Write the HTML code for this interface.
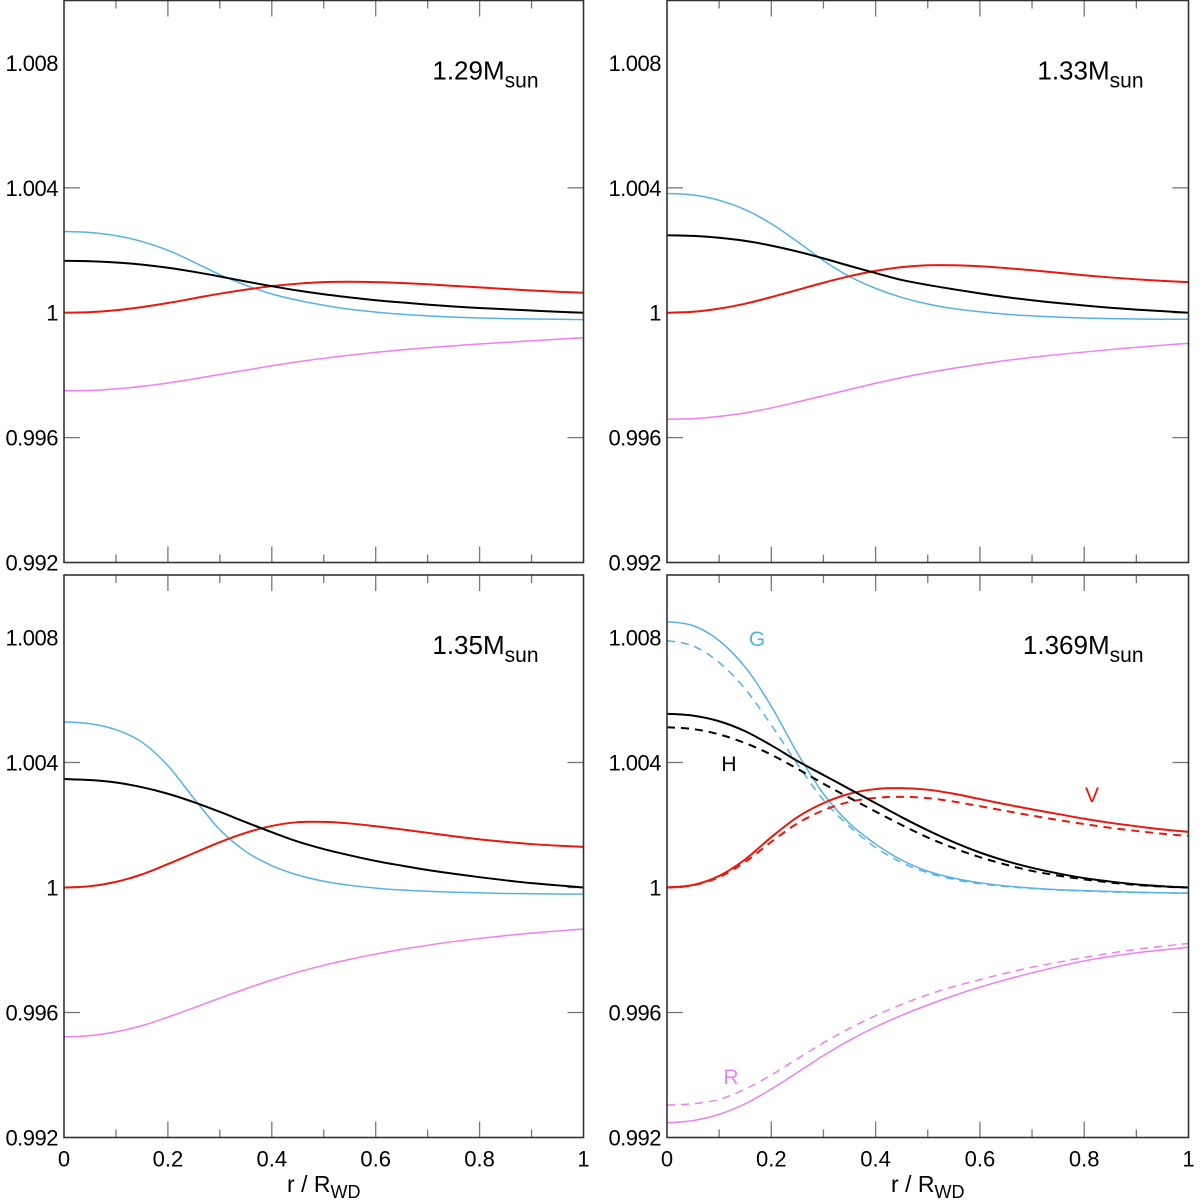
<!DOCTYPE html>
<html><head><meta charset="utf-8">
<style>
html,body{margin:0;padding:0;background:#fff;}
svg{display:block;font-family:"Liberation Sans",Arial,sans-serif;}
</style></head>
<body>
<svg id="chart" width="1200" height="1200" viewBox="0 0 1200 1200" xmlns="http://www.w3.org/2000/svg"></svg>
<script>
const xs = [0,0.05,0.1,0.15,0.2,0.25,0.3,0.35,0.4,0.45,0.5,0.55,0.6,0.65,0.7,0.75,0.8,0.85,0.9,0.95,1];
const yTicks = [1.008,1.004,1,0.996,0.992];
const yTickLabels = ["1.008","1.004","1","0.996","0.992"];
const xTicks = [0,0.2,0.4,0.6,0.8,1];
const xTickLabels = ["0","0.2","0.4","0.6","0.8","1"];
const panelLabels = ["1.29","1.33","1.35","1.369"];

// Panel A (1.29 Msun)
const blueA = [1.00260,1.00257,1.00247,1.00228,1.00200,1.00162,1.00122,1.00088,1.00060,1.00040,1.00024,1.00011,1.00002,0.99995,0.99990,0.99986,0.99983,0.99981,0.99980,0.99979,0.99978];
const blackA = [1.00166,1.00165,1.00161,1.00154,1.00144,1.00131,1.00116,1.00100,1.00085,1.00071,1.00059,1.00049,1.00040,1.00033,1.00026,1.00020,1.00015,1.00011,1.00007,1.00003,1.00000];
const redA = [1.00000,1.00002,1.00008,1.00018,1.00031,1.00046,1.00061,1.00074,1.00085,1.00093,1.00098,1.00099,1.00098,1.00095,1.00091,1.00086,1.00081,1.00076,1.00071,1.00067,1.00064];
const magA = [0.99750,0.99751,0.99756,0.99764,0.99775,0.99788,0.99802,0.99816,0.99830,0.99843,0.99854,0.99864,0.99873,0.99881,0.99888,0.99894,0.99900,0.99905,0.99910,0.99915,0.99920];
// Panel B (1.33 Msun)
const blueB = [1.00382,1.00377,1.00360,1.00330,1.00285,1.00228,1.00167,1.00116,1.00078,1.00049,1.00028,1.00013,1.00003,0.99995,0.99990,0.99986,0.99983,0.99981,0.99980,0.99979,0.99979];
const blackB = [1.00248,1.00246,1.00240,1.00230,1.00215,1.00196,1.00174,1.00150,1.00127,1.00105,1.00089,1.00075,1.00062,1.00050,1.00040,1.00031,1.00023,1.00016,1.00010,1.00005,1.00000];
const redB = [1.00000,1.00003,1.00013,1.00029,1.00050,1.00073,1.00096,1.00117,1.00134,1.00146,1.00152,1.00152,1.00149,1.00143,1.00136,1.00128,1.00120,1.00113,1.00107,1.00102,1.00098];
const magB = [0.99659,0.99661,0.99668,0.99679,0.99695,0.99714,0.99734,0.99754,0.99774,0.99792,0.99808,0.99822,0.99835,0.99847,0.99857,0.99866,0.99874,0.99882,0.99889,0.99896,0.99902];
// Panel C (1.35 Msun)
const blueC = [1.00530,1.00524,1.00505,1.00465,1.00390,1.00285,1.00185,1.00115,1.00070,1.00040,1.00020,1.00007,0.99998,0.99992,0.99988,0.99985,0.99983,0.99981,0.99980,0.99979,0.99979];
const blackC = [1.00347,1.00344,1.00336,1.00321,1.00300,1.00273,1.00242,1.00209,1.00177,1.00147,1.00123,1.00103,1.00085,1.00070,1.00056,1.00044,1.00033,1.00023,1.00014,1.00007,1.00000];
const redC = [1.00000,1.00004,1.00018,1.00042,1.00075,1.00110,1.00145,1.00175,1.00197,1.00209,1.00210,1.00205,1.00196,1.00186,1.00175,1.00164,1.00154,1.00146,1.00139,1.00134,1.00130];
const magC = [0.99522,0.99526,0.99538,0.99558,0.99585,0.99615,0.99646,0.99676,0.99704,0.99729,0.99751,0.99770,0.99787,0.99802,0.99815,0.99827,0.99837,0.99846,0.99854,0.99861,0.99867];
// Panel D (1.369 Msun) solid and dashed
const blueD = [1.00851,1.00838,1.00790,1.00705,1.00580,1.00430,1.00300,1.00205,1.00139,1.00088,1.00052,1.00030,1.00015,1.00005,0.99998,0.99993,0.99990,0.99987,0.99985,0.99983,0.99982];
const blueDd = [1.00790,1.00773,1.00720,1.00635,1.00520,1.00395,1.00280,1.00195,1.00128,1.00080,1.00047,1.00026,1.00012,1.00003,0.99997,0.99992,0.99989,0.99986,0.99984,0.99983,0.99982];
const blackD = [1.00556,1.00550,1.00532,1.00500,1.00455,1.00405,1.00360,1.00315,1.00270,1.00225,1.00183,1.00145,1.00112,1.00085,1.00063,1.00045,1.00030,1.00019,1.00010,1.00004,1.00000];
const blackDd = [1.00513,1.00507,1.00490,1.00462,1.00425,1.00380,1.00332,1.00287,1.00243,1.00200,1.00160,1.00126,1.00097,1.00073,1.00053,1.00038,1.00026,1.00016,1.00008,1.00003,1.00000];
const redD = [1.00000,1.00008,1.00037,1.00090,1.00161,1.00225,1.00270,1.00300,1.00315,1.00318,1.00313,1.00300,1.00283,1.00266,1.00250,1.00235,1.00220,1.00207,1.00196,1.00186,1.00178];
const redDd = [1.00000,1.00007,1.00033,1.00082,1.00146,1.00205,1.00247,1.00274,1.00287,1.00290,1.00286,1.00275,1.00260,1.00245,1.00230,1.00216,1.00203,1.00191,1.00181,1.00172,1.00165];
const magD = [0.99247,0.99254,0.99274,0.99308,0.99355,0.99408,0.99462,0.99511,0.99554,0.99591,0.99624,0.99654,0.99681,0.99705,0.99727,0.99747,0.99765,0.99779,0.99791,0.99800,0.99809];
const magDd = [0.99304,0.99308,0.99322,0.99355,0.99400,0.99452,0.99503,0.99549,0.99590,0.99626,0.99657,0.99683,0.99705,0.99726,0.99745,0.99761,0.99776,0.99790,0.99802,0.99812,0.99821];

const NS = "http://www.w3.org/2000/svg";
const svg = document.getElementById('chart');
const C_BLUE = "#55b2e6", C_RED = "#e8180c", C_MAG = "#ee7fee", C_BLK = "#000";
const YMIN = 0.992, YMAX = 1.010;

function mk(tag, attrs, parent){
  const e = document.createElementNS(NS, tag);
  for (const k in attrs) e.setAttribute(k, attrs[k]);
  (parent||svg).appendChild(e);
  return e;
}

const panels = [
  {x0:64, x1:583.5, y0:0.5, y1:562.5, label:0, xlab:false,
   series:[[magA,C_MAG,1.5,null,'magenta-r'],[blueA,C_BLUE,1.5,null,'blue-g'],[redA,C_RED,2,null,'red-v'],[blackA,C_BLK,2,null,'black-h']]},
  {x0:667, x1:1188.5, y0:0.5, y1:562.5, label:1, xlab:false,
   series:[[magB,C_MAG,1.5,null,'magenta-r'],[blueB,C_BLUE,1.5,null,'blue-g'],[redB,C_RED,2,null,'red-v'],[blackB,C_BLK,2,null,'black-h']]},
  {x0:64, x1:583.5, y0:575, y1:1137.5, label:2, xlab:true,
   series:[[magC,C_MAG,1.5,null,'magenta-r'],[blueC,C_BLUE,1.5,null,'blue-g'],[redC,C_RED,2,null,'red-v'],[blackC,C_BLK,2,null,'black-h']]},
  {x0:667, x1:1188.5, y0:575, y1:1137.5, label:3, xlab:true,
   series:[[magD,C_MAG,1.5,null,'magenta-r'],[magDd,C_MAG,1.5,'8,6','magenta-r-dashed'],
           [blueD,C_BLUE,1.5,null,'blue-g'],[blueDd,C_BLUE,1.5,'8,6','blue-g-dashed'],
           [redD,C_RED,2,null,'red-v'],[redDd,C_RED,2,'8,6','red-v-dashed'],
           [blackD,C_BLK,2,null,'black-h'],[blackDd,C_BLK,2,'8,6','black-h-dashed']]}
];

function pathFrom(pts){
  let d = "M"+pts[0][0].toFixed(2)+","+pts[0][1].toFixed(2);
  for (let i=0;i<pts.length-1;i++){
    const p0=pts[Math.max(i-1,0)], p1=pts[i], p2=pts[i+1], p3=pts[Math.min(i+2,pts.length-1)];
    const c1=[p1[0]+(p2[0]-p0[0])/6, p1[1]+(p2[1]-p0[1])/6];
    const c2=[p2[0]-(p3[0]-p1[0])/6, p2[1]-(p3[1]-p1[1])/6];
    d += " C"+c1[0].toFixed(2)+","+c1[1].toFixed(2)+" "+c2[0].toFixed(2)+","+c2[1].toFixed(2)+" "+p2[0].toFixed(2)+","+p2[1].toFixed(2);
  }
  return d;
}

panels.forEach((p, pi) => {
  const g = mk('g', {});
  
  
  const X = v => p.x0 + v*(p.x1-p.x0);
  const Y = v => p.y1 - (v-YMIN)/(YMAX-YMIN)*(p.y1-p.y0);
  const clipId = 'clip'+pi;
  const cp = mk('clipPath', {id:clipId}, g);
  mk('rect', {x:p.x0, y:p.y0, width:p.x1-p.x0, height:p.y1-p.y0}, cp);

  for (let i=1;i<10;i++){
    const v = i/10, major = (i%2===0), len = major?16:8;
    const t1 = mk('line', {x1:X(v), x2:X(v), y1:p.y1, y2:p.y1-len, stroke:'#777', 'stroke-width':1.3}, g);
    
    
    const t2 = mk('line', {x1:X(v), x2:X(v), y1:p.y0, y2:p.y0+len, stroke:'#777', 'stroke-width':1.3}, g);
    
    
  }
  yTicks.forEach((v, i) => {
    const y = Y(v);
    if (i>0 && i<yTicks.length-1){
      const a = mk('line', {x1:p.x0, x2:p.x0+16, y1:y, y2:y, stroke:'#777', 'stroke-width':1.3}, g);
      
      
      const b = mk('line', {x1:p.x1, x2:p.x1-16, y1:y, y2:y, stroke:'#777', 'stroke-width':1.3}, g);
      
      
    }
    const t = mk('text', {x:p.x0-6, y:y+8, 'text-anchor':'end', 'font-size':22, fill:'#000', 'letter-spacing':'-0.5'}, g);
    t.textContent = yTickLabels[i];
    
    
  });
  if (p.xlab){
    xTicks.forEach((v, i) => {
      const t = mk('text', {x:X(v), y:p.y1+29, 'text-anchor':'middle', 'font-size':22, fill:'#000'}, g);
      t.textContent = xTickLabels[i];
      
      
    });
    const at = mk('text', {x:(p.x0+p.x1)/2, y:1192, 'text-anchor':'middle', 'font-size':23, fill:'#000'}, g);
    
    
    at.appendChild(document.createTextNode('r / R'));
    const sub = mk('tspan', {'font-size':18, dy:6}, at);
    sub.textContent = 'WD';
  }
  p.series.forEach(s => {
    const pts = xs.map((x, i) => [X(x), Y(s[0][i])]);
    const attrs = {d:pathFrom(pts), fill:'none', stroke:s[1], 'stroke-width':s[2], 'clip-path':'url(#'+clipId+')'};
    if (s[3]) attrs['stroke-dasharray'] = s[3];
    const path = mk('path', attrs, g);
    
    
  });
  const fr = mk('rect', {x:p.x0, y:p.y0, width:p.x1-p.x0, height:p.y1-p.y0, fill:'none', stroke:'#333', 'stroke-width':1.6}, g);
  
  
  const ml = mk('text', {x:p.x1-45, y:p.y0+79, 'text-anchor':'end', 'font-size':26, fill:'#000'}, g);
  
  
  ml.appendChild(document.createTextNode(panelLabels[p.label] + 'M'));
  const ms = mk('tspan', {'font-size':21, dy:8}, ml);
  ms.textContent = 'sun';
});

[['G',757,646,C_BLUE,'label-g'],['H',729,771,C_BLK,'label-h'],['V',1092,802,C_RED,'label-v'],['R',731,1084,C_MAG,'label-r']].forEach(l => {
  const t = mk('text', {x:l[1], y:l[2], 'text-anchor':'middle', 'font-size':21, fill:l[3]});
  t.textContent = l[0];
  
  
});
</script>
</body></html>
